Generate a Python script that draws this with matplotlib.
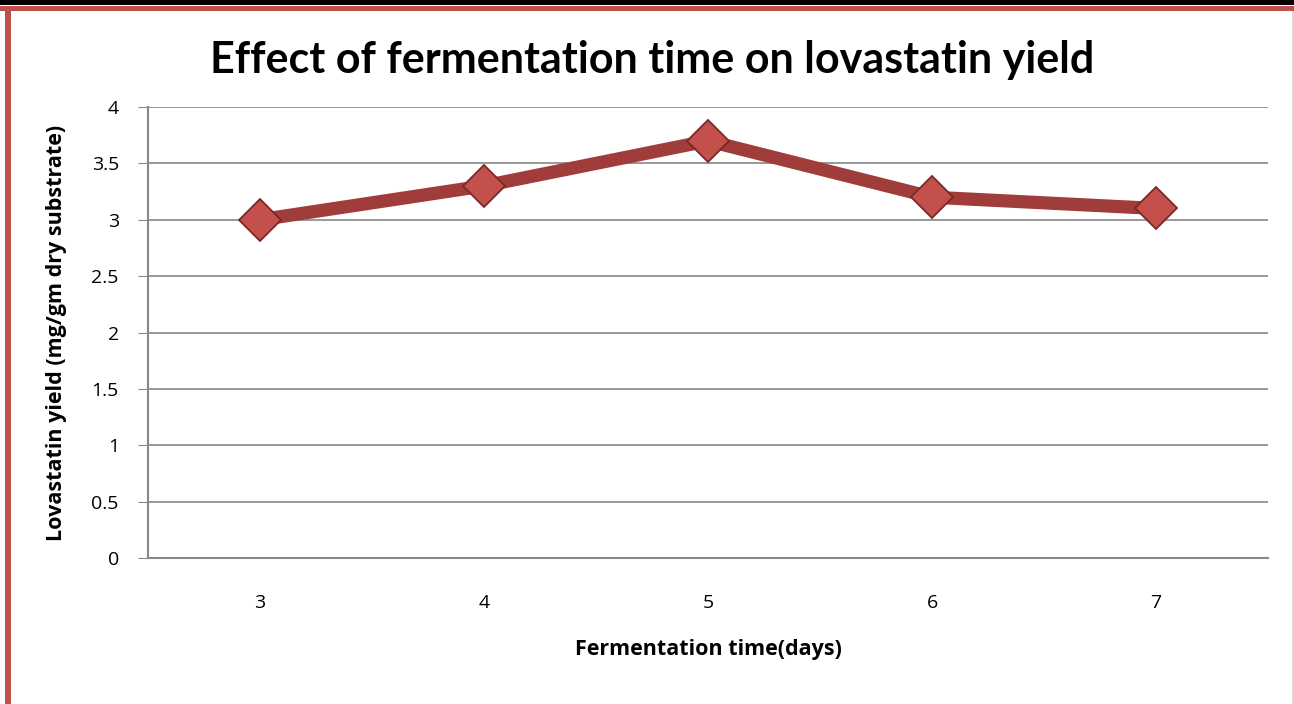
import matplotlib
matplotlib.use("Agg")
from matplotlib import pyplot as plt
from matplotlib.patches import Rectangle
import numpy as np

days = [3, 4, 5, 6, 7]
yield_vals = [3.0, 3.3, 3.7, 3.2, 3.1]
y_ticks = [0, 0.5, 1, 1.5, 2, 2.5, 3, 3.5, 4]
y_tick_labels = ["0", "0.5", "1", "1.5", "2", "2.5", "3", "3.5", "4"]

plt.rcParams['font.family'] = ['Open Sans', 'DejaVu Sans']

W, H = 1294, 704
fig = plt.figure(figsize=(W / 100, H / 100), dpi=100)

# frame decorations: black band on top, red border left/top, faint line right
fig.patches.append(Rectangle((0, 1 - 5 / H), 1, 5 / H, transform=fig.transFigure,
                             facecolor='black', edgecolor='none'))
fig.patches.append(Rectangle((0, 1 - 11 / H), 1, 5 / H, transform=fig.transFigure,
                             facecolor='#C0504D', edgecolor='none'))
fig.patches.append(Rectangle((5 / W, 0), 6 / W, 1 - 6 / H, transform=fig.transFigure,
                             facecolor='#C0504D', edgecolor='none'))
fig.patches.append(Rectangle((1292 / W, 0), 2 / W, 1 - 11 / H, transform=fig.transFigure,
                             facecolor='#E2D4D2', edgecolor='none'))

ax = fig.add_axes([148 / W, 1 - 558 / H, 1120 / W, 451 / H])
x = np.arange(len(days))
ax.plot(x, yield_vals, color='#A03C39', linewidth=9.5, solid_capstyle='round',
        zorder=3)
ax.plot(x, yield_vals, linestyle='none', marker='D', markersize=21,
        markerfacecolor='#C4504C', markeredgecolor='#7A2826',
        markeredgewidth=1.3, zorder=4)

ax.set_xlim(-0.5, len(days) - 0.5)
ax.set_ylim(0, 4)
ax.set_xticks(x)
ax.set_xticklabels([str(d) for d in days], fontsize=14)
ax.set_yticks(y_ticks)
ax.set_yticklabels(y_tick_labels, fontsize=14)
ax.grid(axis='y', color='#888888', linewidth=1.2)
ax.set_axisbelow(True)
for side in ['top', 'right']:
    ax.spines[side].set_visible(False)
for side in ['left', 'bottom']:
    ax.spines[side].set_color('#888888')
    ax.spines[side].set_linewidth(1.5)
ax.tick_params(axis='y', length=7, color='#888888', pad=14)
ax.tick_params(axis='x', length=0, pad=26)

ax.set_xlabel("Fermentation time(days)", fontsize=15.5, fontweight='bold')
ax.set_ylabel("Lovastatin yield (mg/gm dry substrate)", fontsize=15.5,
              fontweight='bold')
ax.xaxis.set_label_coords(0.5, -92 / 451)
ax.yaxis.set_label_coords(-91 / 1120, 0.5)
for lab in (ax.xaxis.label, ax.yaxis.label):
    lab.set_verticalalignment('center')
fig.text(652 / W, 1 - 60 / H, "Effect of fermentation time on lovastatin yield",
         ha='center', va='center', fontsize=31, fontweight='bold',
         family=['Lato', 'DejaVu Sans'])

fig.savefig("out.png", dpi=100)
